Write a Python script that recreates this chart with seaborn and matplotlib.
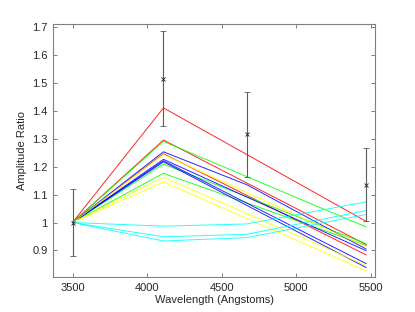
import numpy as np
import pandas as pd
import seaborn as sns
import matplotlib.pyplot as plt

# wavelengths of the model curves (Angstroms)
wl = [3500, 4110, 4670, 5470]

# model amplitude ratios, one list per curve
red_a = [1.0, 1.410, 1.243, 1.004]
red_b = [1.0, 1.295, 1.141, 0.921]
red_c = [1.0, 1.246, 1.097, 0.884]
green_a = [1.0, 1.290, 1.164, 0.984]
green_b = [1.0, 1.209, 1.092, 0.924]
green_c = [1.0, 1.176, 1.070, 0.918]
blue_a = [1.0, 1.253, 1.135, 0.905]
blue_b = [1.0, 1.226, 1.091, 0.899]
blue_c = [1.0, 1.221, 1.069, 0.853]
blue_d = [1.0, 1.217, 1.061, 0.839]
yellow_a = [1.0, 1.243, 1.107, 0.913]
yellow_b = [1.0, 1.162, 1.032, 0.846]
yellow_c = [1.0, 1.145, 1.014, 0.827]
cyan_a = [1.0, 0.987, 0.995, 1.074]
cyan_b = [1.0, 0.949, 0.958, 1.043]
cyan_c = [1.0, 0.934, 0.946, 1.029]

curves = {
    'red_a': (red_a, '#ff0000'), 'red_b': (red_b, '#ff0000'), 'red_c': (red_c, '#ff0000'),
    'green_a': (green_a, '#00ff00'), 'green_b': (green_b, '#00ff00'), 'green_c': (green_c, '#00ff00'),
    'blue_a': (blue_a, '#0000ff'), 'blue_b': (blue_b, '#0000ff'),
    'blue_c': (blue_c, '#0000ff'), 'blue_d': (blue_d, '#0000ff'),
    'yellow_a': (yellow_a, '#ffff00'), 'yellow_b': (yellow_b, '#ffff00'), 'yellow_c': (yellow_c, '#ffff00'),
    'cyan_a': (cyan_a, '#00ffff'), 'cyan_b': (cyan_b, '#00ffff'), 'cyan_c': (cyan_c, '#00ffff'),
}

# observed ratios with errors
obs_wl = [3500, 4110, 4670, 5470]
obs_val = [1.0, 1.515, 1.315, 1.136]
obs_err = [0.12, 0.17, 0.152, 0.131]

# long table for seaborn
rows = []
for name, (vals, col) in curves.items():
    for w, v in zip(wl, vals):
        rows.append([name, w, v])
df = pd.DataFrame(rows, columns=['model', 'wavelength', 'ratio'])
palette = {name: col for name, (vals, col) in curves.items()}

sns.set_style('white')
plt.rcParams['font.family'] = ['Liberation Sans', 'DejaVu Sans']

fig = plt.figure(figsize=(4.15, 3.12), dpi=100)
ax = fig.add_axes([0.128, 0.112, 0.776, 0.811])

sns.lineplot(data=df, x='wavelength', y='ratio', hue='model', palette=palette,
             linewidth=0.7, alpha=0.85, legend=False, ax=ax)

ax.errorbar(obs_wl, obs_val, yerr=obs_err, fmt='x', color='#5a5a5a',
            ecolor='#5a5a5a', elinewidth=0.8, capsize=2.5, capthick=0.8,
            markersize=2.5, markeredgecolor='#222222', markeredgewidth=0.6)

ax.set_xlim(3370, 5530)
ax.set_ylim(0.805, 1.71)
ax.set_xticks([3500, 4000, 4500, 5000, 5500])
ax.set_yticks([0.9, 1.0, 1.1, 1.2, 1.3, 1.4, 1.5, 1.6, 1.7])
ax.set_yticklabels(['0.9', '1', '1.1', '1.2', '1.3', '1.4', '1.5', '1.6', '1.7'])
ax.tick_params(direction='in', length=3, width=0.7, color='#808080',
               labelsize=8, labelcolor='#262626', top=True, right=True,
               bottom=True, left=True, pad=4)
for sp in ax.spines.values():
    sp.set_visible(True)
    sp.set_color('#808080')
    sp.set_linewidth(0.8)

ax.set_xlabel('Wavelength (Angstoms)', fontsize=8, color='#262626', labelpad=2)
ax.set_ylabel('Amplitude Ratio', fontsize=8, color='#262626', labelpad=4)

fig.savefig('out.png', dpi=100)
